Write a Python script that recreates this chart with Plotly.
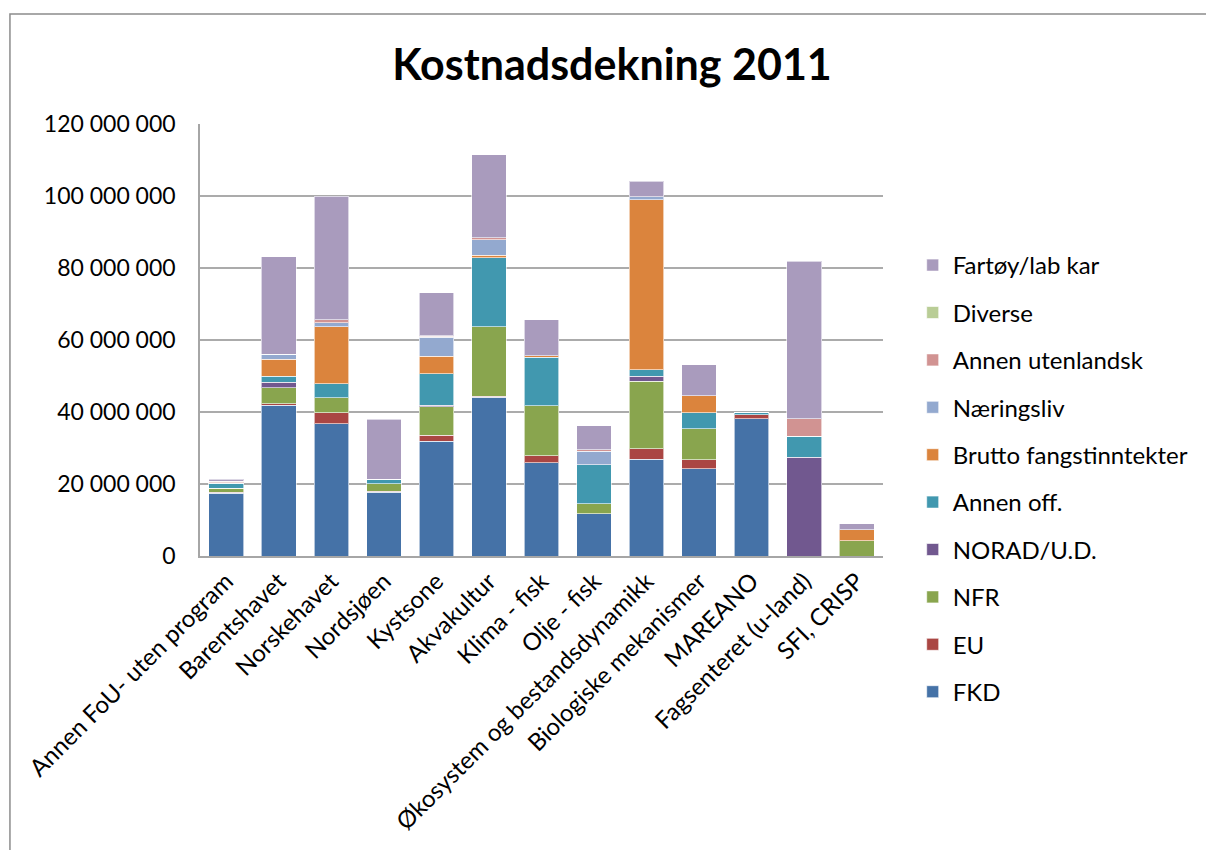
import plotly.graph_objects as go

categories = ["Annen FoU- uten program", "Barentshavet", "Norskehavet", "Nordsjøen",
              "Kystsone", "Akvakultur", "Klima - fisk", "Olje - fisk",
              "Økosystem og bestandsdynamikk", "Biologiske mekanismer", "MAREANO",
              "Fagsenteret (u-land)", "SFI, CRISP"]

# values in millions NOK
FKD = [17.4, 41.9, 36.8, 17.7, 31.9, 44.1, 25.9, 11.75, 26.9, 24.3, 38.1, 0, 0]
EU = [0.3, 0.4, 3.0, 0.35, 1.7, 0.3, 1.9, 0, 2.9, 2.4, 1.1, 0, 0]
NFR = [1.1, 4.5, 4.2, 2.0, 7.9, 19.3, 13.9, 2.8, 18.7, 8.7, 0, 0, 4.2]
NORAD = [0, 1.4, 0, 0, 0.4, 0, 0, 0, 1.5, 0, 0, 27.4, 0]
Annen_off = [1.4, 1.7, 3.8, 1.3, 8.7, 19.2, 13.5, 10.8, 1.8, 4.4, 0.6, 5.9, 0]
Brutto = [0, 4.8, 15.9, 0, 4.9, 0.7, 0.4, 0, 47.1, 4.7, 0, 0, 3.1]
Naeringsliv = [0.2, 1.4, 1.1, 0, 5.2, 4.2, 0, 3.8, 0.9, 0, 0, 0, 0]
Annen_utl = [0.3, 0, 0.8, 0, 0.3, 0.6, 0, 0.4, 0, 0, 0, 4.8, 0]
Diverse = [0, 0, 0, 0, 0.2, 0, 0, 0, 0, 0, 0, 0, 0]
Fartoy = [0.6, 27.0, 34.4, 16.7, 11.9, 23.0, 10.0, 6.6, 4.3, 8.6, 0, 43.8, 1.7]

series = [
    ("FKD", FKD, "#4572A7"),
    ("EU", EU, "#AA4643"),
    ("NFR", NFR, "#89A54E"),
    ("NORAD/U.D.", NORAD, "#71588F"),
    ("Annen off.", Annen_off, "#4198AF"),
    ("Brutto fangstinntekter", Brutto, "#DB843D"),
    ("Næringsliv", Naeringsliv, "#93A9CF"),
    ("Annen utenlandsk", Annen_utl, "#D19392"),
    ("Diverse", Diverse, "#B9CD96"),
    ("Fartøy/lab kar", Fartoy, "#A99BBD"),
]

yticks = [0, 20e6, 40e6, 60e6, 80e6, 100e6, 120e6]

W, H = 1206, 850
ml, mt = 200, 124
pw, ph = 690, 432
mr, mb = W - ml - pw, H - mt - ph

FONT = "Lato, 'Open Sans', sans-serif"

fig = go.Figure()
n = len(series)
for i, (name, vals, color) in enumerate(series):
    fig.add_trace(go.Bar(
        x=categories, y=[v * 1e6 for v in vals], name=name,
        marker=dict(color=color, line=dict(color="rgba(255,255,255,0.6)", width=1)),
        legendgroup=name, legendrank=n - i,
    ))

fig.update_layout(
    width=W, height=H,
    barmode="stack", bargap=0.34,
    paper_bgcolor="white", plot_bgcolor="white",
    margin=dict(l=ml, r=mr, t=mt, b=mb),
    separators=", ",
    font=dict(family=FONT, color="#000000"),
    title=dict(text="<b>Kostnadsdekning 2011</b>", x=612 / W, xanchor="center",
               y=1 - 65 / H, yanchor="middle", xref="container", yref="container",
               font=dict(size=43, family=FONT, color="#000000")),
    legend=dict(x=(920 - ml) / pw, xanchor="left", y=(mt + ph - 243) / ph, yanchor="top",
                traceorder="grouped", tracegroupgap=13.2, maxheight=700,
                font=dict(size=24, family=FONT), itemwidth=30, bgcolor="rgba(0,0,0,0)"),
    xaxis=dict(tickangle=-45, tickfont=dict(size=24, family=FONT),
               showline=True, linecolor="#a6a6a6", linewidth=1.5, ticks=""),
    yaxis=dict(range=[0, 120e6], tickvals=yticks, tickformat=",d",
               tickfont=dict(size=23, family=FONT), ticklabelstandoff=18,
               showgrid=True, gridcolor="#ababab", gridwidth=1.5,
               showline=True, linecolor="#a6a6a6", linewidth=1.5, zeroline=False),
)

# outer chart frame
fig.add_shape(type="rect", xref="paper", yref="paper",
              x0=(8 - ml) / pw, x1=(1260 - ml) / pw,
              y0=(mt + ph - 900) / ph, y1=(mt + ph - 14) / ph,
              line=dict(color="#8c8c8c", width=1.5), fillcolor="rgba(0,0,0,0)", layer="below")

fig.write_html("out.html", config={"displayModeBar": False},
               post_script="document.body.style.margin='0';document.body.style.overflow='hidden';")
